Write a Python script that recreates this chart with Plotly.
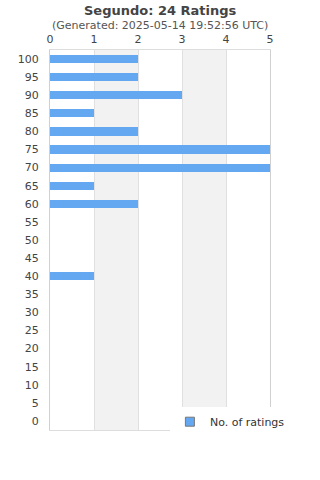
import plotly.graph_objects as go

ratings = [100, 95, 90, 85, 80, 75, 70, 65, 60, 55, 50, 45, 40, 35, 30, 25, 20, 15, 10, 5, 0]
counts = [2, 2, 3, 1, 2, 5, 5, 1, 2, 0, 0, 0, 1, 0, 0, 0, 0, 0, 0, 0, 0]
x_ticks = [0, 1, 2, 3, 4, 5]
title = "Segundo: 24 Ratings"
subtitle = "(Generated: 2025-05-14 19:52:56 UTC)"
series_name = "No. of ratings"
bar_color = "#64a8f2"

fig = go.Figure()
fig.add_trace(go.Bar(
    x=counts, y=ratings, orientation="h", name=series_name,
    width=2.25,
    marker=dict(color=bar_color, line=dict(width=0)),
    showlegend=False,
))
# legend proxy with a small square swatch
fig.add_trace(go.Scatter(
    x=[None], y=[None], mode="markers", name=series_name,
    marker=dict(symbol="square", size=9, color=bar_color, line=dict(color="#777", width=1)),
    showlegend=True,
))

shapes = []
for i in range(0, len(x_ticks) - 1):
    if i % 2 == 1:
        shapes.append(dict(type="rect", xref="x", yref="paper", x0=x_ticks[i], x1=x_ticks[i + 1],
                           y0=0, y1=1, fillcolor="#f2f2f2", line=dict(width=0), layer="below"))

fig.update_layout(
    width=320, height=480,
    margin=dict(l=50, r=50, t=50, b=50),
    paper_bgcolor="white", plot_bgcolor="white",
    font=dict(family="DejaVu Sans", color="#444"),
    shapes=shapes,
    bargap=0,
    xaxis=dict(side="top", range=[0, 5], tickvals=x_ticks, showgrid=True, gridcolor="#e0e0e0",
               gridwidth=1, zeroline=False, showline=True, linecolor="#dddddd", mirror=True,
               ticks="", tickfont=dict(size=11, color="#444"), ticklabelstandoff=2, fixedrange=True),
    yaxis=dict(range=[-2.5, 102.5], tickvals=ratings, showgrid=False, zeroline=False,
               showline=True, linecolor="#d0d0d0", mirror=True, ticks="",
               tickfont=dict(size=11, color="#444"), ticklabelstandoff=8, fixedrange=True),
    legend=dict(x=0.545, y=0.06, xanchor="left", yanchor="top", bgcolor="white",
                font=dict(size=11, color="#333"), borderwidth=0, itemwidth=30),
)
fig.add_annotation(text="<b>" + title + "</b>", xref="paper", yref="paper", x=0.5, y=1 + (50 - 10) / 380,
                   yanchor="middle", showarrow=False, font=dict(size=13, color="#444"))
fig.add_annotation(text=subtitle, xref="paper", yref="paper", x=0.5, y=1 + (50 - 25.5) / 380,
                   yanchor="middle", showarrow=False, font=dict(size=11, color="#555"))
fig.write_html("out.html")
